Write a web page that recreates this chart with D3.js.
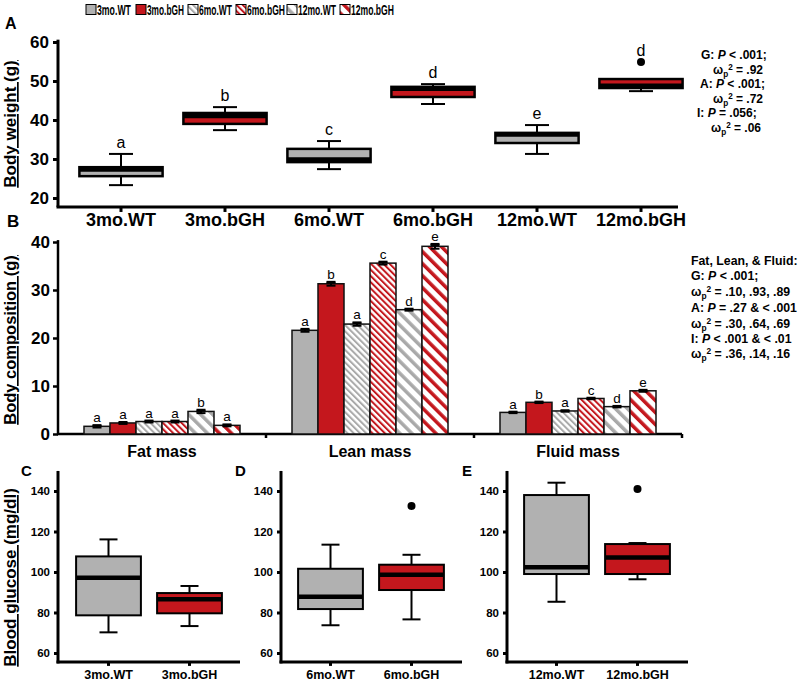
<!DOCTYPE html>
<html><head><meta charset="utf-8">
<script src="https://cdn.jsdelivr.net/npm/d3@7"></script>
<style>
body{margin:0;background:#fff}
svg{display:block}
text{font-family:"Liberation Sans",Arial,sans-serif;fill:#000}
</style>
</head><body>
<svg id="chart" width="800" height="695"></svg>
<script>
// ---------- DATA ----------
const groups = ["3mo.WT","3mo.bGH","6mo.WT","6mo.bGH","12mo.WT","12mo.bGH"];

// Panel A: body weight box plots (g)
const bwLow     = [23.3, 37.4, 27.4, 44.1, 31.3, 47.4];
const bwQ1      = [25.6, 39.0, 29.2, 45.9, 34.1, 48.2];
const bwMedian  = [27.3, 41.0, 29.9, 48.0, 36.3, 48.8];
const bwQ3      = [27.9, 41.8, 32.6, 48.5, 36.7, 50.5];
const bwHigh    = [31.3, 43.3, 34.6, 49.2, 38.7, 50.5];
const bwOutliers= [[], [], [], [], [], [54.9]];
const bwLetters = ["a","b","c","d","e","d"];
const bwTicks   = [20, 30, 40, 50, 60];

// Panel B: body composition bars (g)
const compCategories = ["Fat mass","Lean mass","Fluid mass"];
const fatMean   = [1.6, 2.3, 2.6, 2.6, 4.7, 1.8];
const fatErr    = [0.25, 0.2, 0.2, 0.2, 0.35, 0.2];
const leanMean  = [21.6, 31.3, 22.9, 35.6, 25.9, 39.1];
const leanErr   = [0.3, 0.4, 0.35, 0.3, 0.2, 0.5];
const fluidMean = [4.5, 6.6, 4.8, 7.4, 5.7, 9.0];
const fluidErr  = [0.15, 0.15, 0.15, 0.15, 0.15, 0.2];
const fatLetters   = ["a","a","a","a","b","a"];
const leanLetters  = ["a","b","a","c","d","e"];
const fluidLetters = ["a","b","a","c","d","e"];
const compTicks = [0, 10, 20, 30, 40];

// Panels C-E: blood glucose box plots (mg/dl)
const bgLow     = [70.2, 73.3, 73.7, 76.6, 85.3, 96.4];
const bgQ1      = [78.6, 79.6, 81.7, 91.1, 99.0, 99.0];
const bgMedian  = [97.2, 86.5, 87.8, 98.7, 102.3, 107.2];
const bgQ3      = [107.7, 89.6, 101.6, 103.6, 138.0, 113.8];
const bgHigh    = [116.1, 93.1, 113.5, 108.5, 144.1, 114.3];
const bgOutliers= [[], [], [], [132.6], [], [141.0]];
const bgTicks   = [60, 80, 100, 120, 140];

// ---------- STYLE ----------
const GRAY = "#b1b1b1", RED = "#c4171d", STRIPE_GRAY = "#a9a9a9";
const svg = d3.select("#chart");
const defs = svg.append("defs");
function mkPattern(id, color, period, sw){
  const p = defs.append("pattern").attr("id", id).attr("patternUnits","userSpaceOnUse")
    .attr("width", period).attr("height", period).attr("patternTransform","rotate(-45)");
  p.append("rect").attr("width", period).attr("height", period).attr("fill","#fff");
  p.append("rect").attr("width", sw).attr("height", period).attr("fill", color);
}
mkPattern("p6wt", STRIPE_GRAY, 4.4, 2.0);
mkPattern("p6bgh", RED, 4.4, 2.0);
mkPattern("p12wt", STRIPE_GRAY, 8.5, 3.5);
mkPattern("p12bgh", RED, 8.5, 3.5);
const fills = [GRAY, RED, "url(#p6wt)", "url(#p6bgh)", "url(#p12wt)", "url(#p12bgh)"];
const fillOf = g => fills[groups.indexOf(g)];

function styleAxis(g, fs, tw){
  g.select(".domain").remove();
  g.selectAll(".tick line").attr("stroke","#000").attr("stroke-width", tw);
  g.selectAll(".tick text").attr("font-weight","bold").attr("font-size", fs+"px").attr("fill","#000");
}

// ---------- LEGEND ----------
const legX = [86,136,188,236,287,340];
const legW = [34,37,33,38,38,43];
const leg = svg.append("g");
groups.forEach((g,i)=>{
  leg.append("rect").attr("x", legX[i]).attr("y", 4.5).attr("width",10).attr("height",10)
    .attr("fill", fillOf(g)).attr("stroke","#000").attr("stroke-width",1);
  const tg = leg.append("g");
  const t = tg.append("text").attr("x", 0).attr("y", 0).text(g)
    .attr("font-weight","bold").attr("font-size","14px");
  const nat = t.node().getComputedTextLength();
  tg.attr("transform", `translate(${legX[i]+11},14.5) scale(${legW[i]/nat},1)`);
});

// ---------- helper: rich text ----------
function richText(x, y, segs, fs){
  const t = svg.append("text").attr("x", x).attr("y", y).attr("font-size", fs+"px").attr("font-weight","bold");
  let off = 0;
  segs.forEach(s=>{
    const sp = t.append("tspan").text(s.t);
    let target = 0;
    if (s.sub){ target = fs*0.22; sp.attr("font-size", (fs*0.68)+"px"); }
    else if (s.sup){ target = -fs*0.3; sp.attr("font-size", (fs*0.68)+"px"); }
    if (target !== off){ sp.attr("dy", target-off); off = target; }
    if (s.i) sp.attr("font-style","italic");
  });
  return t;
}
const omega = v => [{t:"ω"},{t:"p",sub:true},{t:"2",sup:true},{t:v}];

// ---------- PANEL A ----------
const yA = d3.scaleLinear().domain([20,60]).range([198,42]);
const xA = d3.scaleBand().domain(groups).range([69,693]);
svg.append("text").attr("x",5).attr("y",29).text("A").attr("font-weight","bold").attr("font-size","16px");
svg.append("line").attr("x1",58).attr("x2",58).attr("y1",yA(60.6)).attr("y2",yA(17.7)).attr("stroke","#000").attr("stroke-width",3);
svg.append("line").attr("x1",56.5).attr("x2",678).attr("y1",yA(17.7)).attr("y2",yA(17.7)).attr("stroke","#000").attr("stroke-width",3);
svg.append("g").attr("transform","translate(58,0)")
  .call(d3.axisLeft(yA).tickValues(bwTicks).tickSize(5).tickPadding(4)).call(g=>styleAxis(g,17,3));
svg.append("g").attr("transform",`translate(0,${yA(17.7)})`)
  .call(d3.axisBottom(xA).tickSize(5).tickPadding(1)).call(g=>styleAxis(g,18,3));
svg.append("text").attr("transform",`translate(16,${(yA(60)+yA(20))/2+4}) rotate(-90)`).attr("text-anchor","middle")
  .attr("font-weight","bold").attr("font-size","17px").attr("text-decoration","underline").text("Body weight (g)");

function drawBox(x0, bw, cap, y, lo, q1, med, q3, hi, outs, fill, sw){
  const cx = x0 + bw/2;
  const g = svg.append("g");
  g.append("line").attr("x1",cx).attr("x2",cx).attr("y1",y(hi)).attr("y2",y(lo)).attr("stroke","#000").attr("stroke-width",2);
  [hi,lo].forEach(v=>g.append("line").attr("x1",cx-cap/2).attr("x2",cx+cap/2).attr("y1",y(v)).attr("y2",y(v)).attr("stroke","#000").attr("stroke-width",2));
  const bx = bw*0.8;
  g.append("rect").attr("x",cx-bx/2).attr("width",bx).attr("y",y(q3)).attr("height",y(q1)-y(q3))
    .attr("fill",fill).attr("stroke","#000").attr("stroke-width",sw);
  g.append("line").attr("x1",cx-bx/2).attr("x2",cx+bx/2).attr("y1",y(med)).attr("y2",y(med)).attr("stroke","#000").attr("stroke-width",4.5);
  outs.forEach(o=>g.append("circle").attr("cx",cx).attr("cy",y(o)).attr("r",4).attr("fill","#000"));
}
groups.forEach((g,i)=>{
  drawBox(xA(g), xA.bandwidth(), 24, yA, bwLow[i], bwQ1[i], bwMedian[i], bwQ3[i], bwHigh[i], bwOutliers[i], i%2? RED: GRAY, 2.5);
  const top = d3.max([bwHigh[i], ...bwOutliers[i]]);
  svg.append("text").attr("x", xA(g)+xA.bandwidth()/2).attr("y", yA(top)-6).attr("text-anchor","middle")
    .attr("font-size","16px").text(bwLetters[i]);
});
// stats A
const sA = 12;
richText(701, 59, [{t:"G: "},{t:"P",i:true},{t:" < .001;"}], sA);
richText(713, 74, omega(" = .92"), sA);
richText(700, 88, [{t:"A: "},{t:"P",i:true},{t:" < .001;"}], sA);
richText(713, 103, omega(" = .72"), sA);
richText(697, 117, [{t:"I: "},{t:"P",i:true},{t:" = .056;"}], sA);
richText(711, 132, omega("  = .06"), sA);

// ---------- PANEL B ----------
const yB = d3.scaleLinear().domain([0,40]).range([434,242]);
const xB = d3.scaleBand().domain(compCategories).range([58,682]);
const xBi = d3.scaleBand().domain(groups).range([26,182]);
svg.append("text").attr("x",7).attr("y",227).text("B").attr("font-weight","bold").attr("font-size","17px");
svg.append("line").attr("x1",58).attr("x2",58).attr("y1",yB(40.4)).attr("y2",yB(0)+1).attr("stroke","#000").attr("stroke-width",2.5);
svg.append("line").attr("x1",57).attr("x2",682).attr("y1",yB(0)).attr("y2",yB(0)).attr("stroke","#000").attr("stroke-width",2.5);
svg.append("g").attr("transform","translate(58,0)")
  .call(d3.axisLeft(yB).tickValues(compTicks).tickSize(5).tickPadding(3)).call(g=>styleAxis(g,17,2.5));
compCategories.forEach(c=>{
  svg.append("line").attr("x1",xB(c)+xB.bandwidth()).attr("x2",xB(c)+xB.bandwidth())
    .attr("y1",yB(0)).attr("y2",yB(0)+4).attr("stroke","#000").attr("stroke-width",2.5);
});
svg.append("g").attr("transform",`translate(0,${yB(0)})`)
  .call(d3.axisBottom(xB).tickSize(0).tickPadding(12)).call(g=>{styleAxis(g,16,0); g.selectAll(".tick line").remove();});
svg.append("text").attr("transform",`translate(16,${(yB(40)+yB(0))/2+2}) rotate(-90)`).attr("text-anchor","middle")
  .attr("font-weight","bold").attr("font-size","16.5px").attr("text-decoration","underline").text("Body composition (g)");

const compSets = [[fatMean,fatErr,fatLetters],[leanMean,leanErr,leanLetters],[fluidMean,fluidErr,fluidLetters]];
compCategories.forEach((c,ci)=>{
  const [m,e,l] = compSets[ci];
  groups.forEach((g,i)=>{
    const x = xB(c)+xBi(g), w = xBi.bandwidth(), cx = x+w/2;
    svg.append("rect").attr("x",x).attr("y",yB(m[i])).attr("width",w).attr("height",yB(0)-yB(m[i]))
      .attr("fill",fills[i]).attr("stroke","#111").attr("stroke-width",1.5);
    svg.append("line").attr("x1",cx).attr("x2",cx).attr("y1",yB(m[i]+e[i])).attr("y2",yB(m[i]-e[i])).attr("stroke","#000").attr("stroke-width",2);
    [m[i]+e[i], m[i]-e[i]].forEach(v=>svg.append("line").attr("x1",cx-4.5).attr("x2",cx+4.5).attr("y1",yB(v)).attr("y2",yB(v)).attr("stroke","#000").attr("stroke-width",2));
    svg.append("rect").attr("x",cx-4.5).attr("width",9).attr("y",yB(m[i]+e[i])).attr("height",Math.max(yB(m[i])-yB(m[i]+e[i]),0)).attr("fill","#000");
    svg.append("text").attr("x",cx).attr("y",yB(m[i]+e[i])-3).attr("text-anchor","middle").attr("font-size","13.5px").text(l[i]);
  });
});
// stats B
const sB = 12.3;
richText(691, 265, [{t:"Fat, Lean, & Fluid:"}], sB);
richText(691, 280, [{t:"G: "},{t:"P",i:true},{t:" < .001;"}], sB);
richText(691, 296, omega(" = .10, .93, .89"), sB);
richText(691, 312, [{t:"A: "},{t:"P",i:true},{t:" = .27 & < .001"}], sB);
richText(691, 328, omega(" = .30, .64, .69"), sB);
richText(691, 343, [{t:"I: "},{t:"P",i:true},{t:" < .001 & < .01"}], sB);
richText(691, 358, omega(" = .36, .14, .16"), sB);

// ---------- PANELS C-E ----------
const yC = d3.scaleLinear().domain([60,140]).range([653,491]);
const glucPanels = [
  {label:"C", lx:21,  axisX:58,  range:[68,230],  end:240, idx:[0,1]},
  {label:"D", lx:235, axisX:281, range:[290,452], end:462, idx:[2,3]},
  {label:"E", lx:462, axisX:507, range:[516,678], end:688, idx:[4,5]}
];
glucPanels.forEach(p=>{
  const cats = p.idx.map(i=>groups[i]);
  const x = d3.scaleBand().domain(cats).range(p.range);
  svg.append("text").attr("x",p.lx).attr("y",476).text(p.label).attr("font-weight","bold").attr("font-size","15px");
  svg.append("line").attr("x1",p.axisX).attr("x2",p.axisX).attr("y1",yC(149.9)).attr("y2",yC(55.6)+1.5).attr("stroke","#000").attr("stroke-width",3);
  svg.append("line").attr("x1",p.axisX-1.5).attr("x2",p.end).attr("y1",yC(55.6)).attr("y2",yC(55.6)).attr("stroke","#000").attr("stroke-width",3);
  svg.append("g").attr("transform",`translate(${p.axisX},0)`)
    .call(d3.axisLeft(yC).tickValues(bgTicks).tickSize(4).tickPadding(4)).call(g=>styleAxis(g,11.5,3));
  svg.append("g").attr("transform",`translate(0,${yC(55.6)})`)
    .call(d3.axisBottom(x).tickSize(4).tickPadding(4)).call(g=>styleAxis(g,12.5,3));
  p.idx.forEach(i=>{
    drawBox(x(groups[i]), x.bandwidth(), 18, yC, bgLow[i], bgQ1[i], bgMedian[i], bgQ3[i], bgHigh[i], bgOutliers[i], i%2? RED: GRAY, 2);
  });
});
svg.append("text").attr("transform",`translate(16,${(yC(149.9)+yC(55.6))/2+11}) rotate(-90)`).attr("text-anchor","middle")
  .attr("font-weight","bold").attr("font-size","17px").attr("text-decoration","underline").text("Blood glucose (mg/dl)");
</script>
</body></html>
